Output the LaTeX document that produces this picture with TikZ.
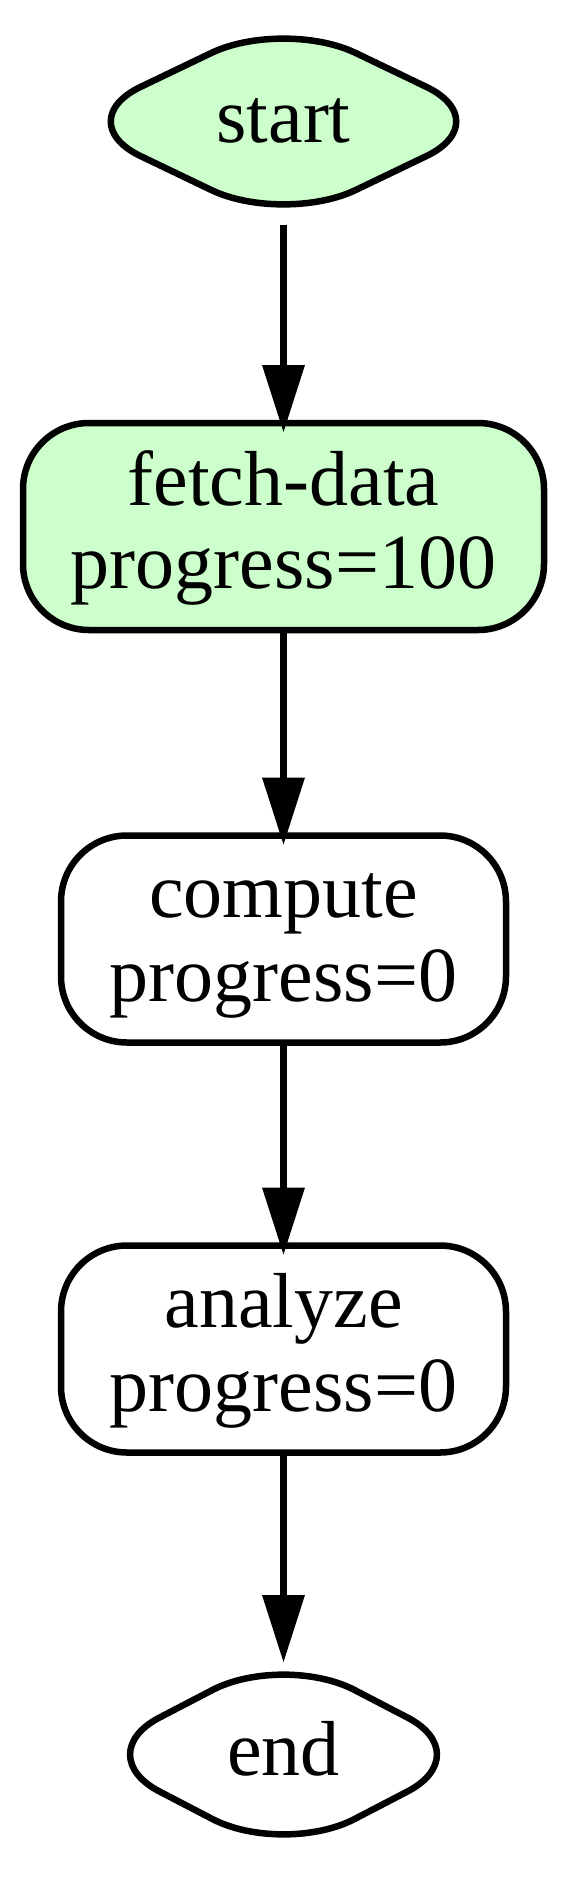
\documentclass[tikz,border=0pt]{standalone}
\usepackage{fontspec}
\setmainfont{Liberation Serif}
\usetikzlibrary{shapes.geometric,arrows.meta}
\definecolor{donefill}{HTML}{CCFFCC}
\begin{document}
\begin{tikzpicture}[x=0.5pt,y=-0.5pt,line width=3.25pt,
  every node/.style={font=\fontsize{39pt}{41.75pt}\selectfont, inner sep=0pt, outer sep=0pt},
  term/.style={shape=diamond, draw, rounded corners=40pt, minimum height=101.5pt, text height=28.5pt, text depth=7.5pt},
  taskbox/.style={shape=rectangle, draw, rounded corners=33pt, minimum height=103.5pt, align=center},
  done/.style={fill=donefill},
  flow/.style={-{Triangle[length=33.5pt,width=21.5pt,line width=0pt]}, shorten >=-4.5pt}
]
\useasboundingbox (0,0) rectangle (567,1879);
\node[term, done, minimum width=215pt] (start) at (283.5,121.5) {start};
\node[taskbox, done, minimum width=260.5pt] (fetch) at (283.5,526.5) {\rule{0pt}{29pt}fetch-data\\progress=100};
\node[taskbox, minimum width=222.5pt] (compute) at (283.5,939) {\rule{0pt}{29pt}compute\\progress=0};
\node[taskbox, minimum width=222.5pt] (analyze) at (283.5,1349) {\rule{0pt}{29pt}analyze\\progress=0};
\node[term, minimum width=195pt] (end) at (283.5,1754.5) {end};
\draw[flow] (start.south) -- (fetch.north);
\draw[flow] (fetch.south) -- (compute.north);
\draw[flow] (compute.south) -- (analyze.north);
\draw[flow] (analyze.south) -- (end.north);
\end{tikzpicture}
\end{document}
